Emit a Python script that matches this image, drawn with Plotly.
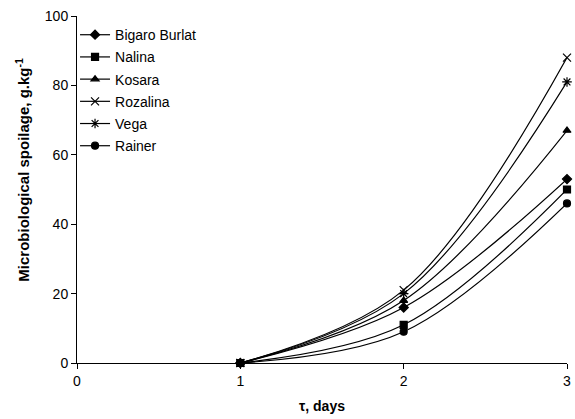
import plotly.graph_objects as go

days = [1, 2, 3]
names = ["Bigaro Burlat", "Nalina", "Kosara", "Rozalina", "Vega", "Rainer"]
bigaro = [0, 16, 53]
nalina = [0, 11, 50]
kosara = [0, 18, 67]
rozalina = [0, 21, 88]
vega = [0, 20, 81]
rainer = [0, 9, 46]
series = [bigaro, nalina, kosara, rozalina, vega, rainer]
symbols = ["diamond", "square", "triangle-up", "x-thin-open", "asterisk-open", "circle"]
sizes = [7, 7, 7, 8, 8, 7]

fig = go.Figure()
for i, (n, vals) in enumerate(zip(names, series)):
    fig.add_trace(go.Scatter(
        x=days, y=vals, name=n, mode="lines+markers",
        line=dict(color="black", width=1.2, shape="spline", smoothing=1),
        marker=dict(symbol=symbols[i], size=sizes[i], color="black",
                    line=dict(color="black", width=1.2)),
        cliponaxis=False, legendgroup=n,
    ))

fig.update_layout(
    width=575, height=419,
    margin=dict(l=77, r=8, t=16, b=56),
    paper_bgcolor="white", plot_bgcolor="white",
    font=dict(family="Arial, Liberation Sans, sans-serif", size=14, color="black"),
    showlegend=True,
    legend=dict(x=-0.004, y=0.991, xanchor="left", yanchor="top",
                font=dict(size=14), tracegroupgap=1, itemwidth=30,
                bgcolor="rgba(0,0,0,0)"),
    xaxis=dict(range=[0, 3], tickvals=[0, 1, 2, 3], showgrid=False, zeroline=False,
               showline=True, linecolor="black", linewidth=1, ticks="outside",
               ticklen=5, tickcolor="black", automargin=False,
               title=dict(text="<b>τ, days</b>", font=dict(size=14), standoff=13)),
    yaxis=dict(range=[0, 100], tickvals=[0, 20, 40, 60, 80, 100], showgrid=False,
               zeroline=False, showline=True, linecolor="black", linewidth=1,
               ticks="outside", ticklen=5, tickcolor="black", automargin=False),
    annotations=[dict(text="<b>Microbiological spoilage, g.kg<sup>-1</sup></b>",
                      textangle=-90, xref="paper", yref="paper",
                      x=-0.113, y=0.556, xanchor="center", yanchor="middle",
                      showarrow=False, font=dict(size=15))],
)
fig.write_html("out.html", config={"displayModeBar": False})
with open("out.html", "r", encoding="utf-8") as f:
    html = f.read()
html = html.replace("<body>", '<body style="margin:0;padding:0;">', 1)
with open("out.html", "w", encoding="utf-8") as f:
    f.write(html)
